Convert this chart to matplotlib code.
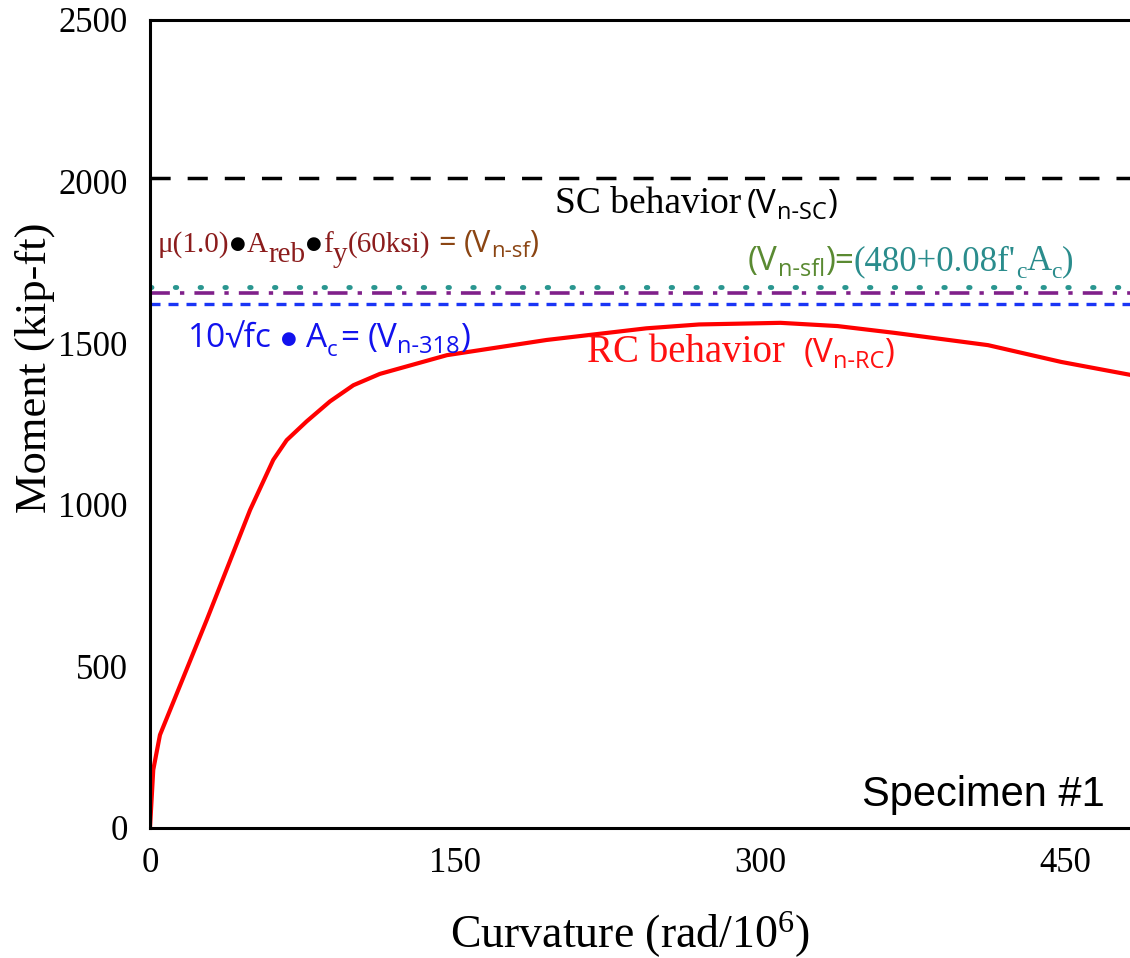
import matplotlib.pyplot as plt
from matplotlib.transforms import offset_copy

# moment-curvature response, specimen 1
curvature = [0, 1.6, 4.9, 27.9, 49.2, 60.6, 67.2, 77, 88.5, 100, 113, 146, 195, 244, 270, 310,
             338, 366, 412, 448, 482, 490]
moment = [0, 180, 288, 644, 984, 1139, 1200, 1258, 1320, 1370, 1405, 1463, 1510, 1546, 1558, 1563,
          1553, 1532, 1494, 1442, 1402, 1392]

# shear capacities (kip-ft)
v_sc = 2010
v_sfl = 1675
v_sf = 1655
v_318 = 1620

x_ticks = [0, 150, 300, 450]
y_ticks = [0, 500, 1000, 1500, 2000, 2500]

plt.rcParams['mathtext.fontset'] = 'custom'
plt.rcParams['mathtext.rm'] = 'Liberation Serif'
plt.rcParams['mathtext.it'] = 'Liberation Serif:italic'

serif = 'Liberation Serif'
sans = ['Open Sans', 'DejaVu Sans']
sym = ['DejaVu Sans']

fig = plt.figure(figsize=(11.3, 9.58), dpi=100)
ax = fig.add_axes([150 / 1130, 130 / 958, 1017 / 1130, 808 / 958])

ax.plot(curvature, moment, color='#ff0000', lw=3, solid_capstyle='round', solid_joinstyle='round')
ax.axhline(v_sc, color='black', lw=2.5, dashes=(5.8, 4.9))
ax.axhline(v_sfl, color='#2a9690', lw=3.5, dashes=(0.3, 4.8), dash_capstyle='round')
ax.axhline(v_sf, color='#80208a', lw=2.6, dashes=(5.5, 2.8, 1.2, 2.8))
ax.axhline(v_318, color='#1a35f5', lw=2.4, dashes=(3.0, 2.4))

ax.set_xlim(0, 500)
ax.set_ylim(0, 2500)
ax.set_xticks(x_ticks)
ax.set_yticks(y_ticks)
ax.tick_params(length=0, labelsize=25, pad=14)
ax.tick_params(axis='y', pad=16)
for lab in ax.get_xticklabels() + ax.get_yticklabels():
    lab.set_family(serif)
for s in ['left', 'bottom', 'top']:
    ax.spines[s].set_linewidth(2.2)
ax.spines['right'].set_visible(False)

ax.set_ylabel('Moment (kip-ft)', family=serif, fontsize=32, va='center')
ax.yaxis.set_label_coords(-0.113, 0.569)
ax.set_xlabel('Curvature (rad/10$^{6}$)', family=serif, fontsize=33, va='center')
ax.xaxis.set_label_coords(0.472, -0.132)


def write(x, y, parts):
    # lay text pieces side by side along one baseline
    ren = fig.canvas.get_renderer()
    dx = 0
    for s, size, fam, color, dy, pre in parts:
        dx += pre
        tr = offset_copy(ax.transData, fig=fig, x=dx, y=dy, units='dots')
        t = ax.text(x, y, s, transform=tr, fontsize=size, family=fam, color=color,
                    va='baseline', ha='left')
        dx += t.get_window_extent(ren).width


dred = '#8b1c1c'
brown = '#8b4513'
blue = '#1212ee'
green = '#5a8a32'
teal = '#2a8c8c'
red = '#ff1010'

write(3.9, 1782, [
    ('μ(1.0)', 21, serif, dred, 0, 0),
    ('●', 13, sym, 'black', 3, 1),
    ('A', 21, serif, dred, 0, 1),
    ('reb', 21, serif, dred, -10, 0),
    ('●', 13, sym, 'black', 3, 1),
    ('f', 21, serif, dred, 0, 1),
    ('y', 21, serif, dred, -10, 0),
    ('(60ksi)', 21, serif, dred, 0, 0),
    ('=', 22, sans, brown, 0, 8),
    ('(V', 22, sans, brown, 0, 8),
    ('n-sf', 16, sans, brown, -5, 0),
    (')', 22, sans, brown, 0, 0),
])

write(18.7, 1488, [
    ('10√fc', 24, sans, blue, 0, 0),
    ('●', 13, sym, blue, 3, 9),
    ('A', 24, sans, blue, 0, 9),
    ('c', 16, sans, blue, -9, 0),
    ('=', 24, sans, blue, 0, 3),
    ('(V', 24, sans, blue, 0, 8),
    ('n-318', 17, sans, blue, -6, 0),
    (')', 24, sans, blue, 0, 0),
])

write(294, 1727, [
    ('(V', 24, sans, green, 0, 0),
    ('n-sfl', 17, sans, green, -6, 0),
    (')=', 24, sans, green, 0, 0),
    ('(480+0.08f\'', 25, serif, teal, 0, 0),
    ('c', 17, serif, teal, -8, 0),
    ('A', 25, serif, teal, 0, 0),
    ('c', 17, serif, teal, -8, 0),
    (')', 25, serif, teal, 0, 0),
])

write(215, 1442, [
    ('RC behavior', 28, serif, red, 0, 0),
    ('(V', 24, sans, red, 0, 18),
    ('n-RC', 17, sans, red, -6, 0),
    (')', 24, sans, red, 0, 0),
])

write(199, 1903, [
    ('SC behavior', 27, serif, 'black', 0, 0),
    ('(V', 24, sans, 'black', 0, 6),
    ('n-SC', 17, sans, 'black', -6, 0),
    (')', 24, sans, 'black', 0, 0),
])

ax.text(350, 68, 'Specimen #1', family='Liberation Sans', fontsize=30, color='black',
        va='baseline', ha='left')

fig.savefig('out.png', dpi=100)
